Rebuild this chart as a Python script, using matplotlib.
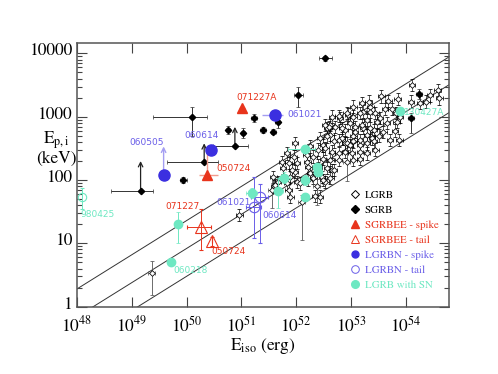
import numpy as np
import matplotlib
matplotlib.use('Agg')
import matplotlib.pyplot as plt
import matplotlib.transforms as mtransforms
from matplotlib.lines import Line2D
from matplotlib.ticker import FuncFormatter, NullFormatter, NullLocator, LogLocator, FixedLocator

plt.rcParams['font.family'] = 'STIXGeneral'
plt.rcParams['mathtext.fontset'] = 'stix'

RED = '#e8341c'
RED_LT = '#f39a8c'
BLUE = '#3b2fe0'
BLUE_TXT = '#6a5ee8'
BLUE_LT = '#a49ef2'
CYAN = '#6ee8c2'

# ---- data (log10 Eiso [erg], log10 Ep,i [keV]) ----
lgrb_loge = [54.11, 54.58, 54.61, 54.44, 54.37, 54.26, 54.09, 53.85, 53.55, 53.68,
             53.20, 53.35, 53.22, 53.44, 53.62, 53.74, 53.82, 52.95, 53.04, 52.80,
             53.29, 53.47, 53.65, 53.83, 53.89, 52.71, 52.56, 52.89, 53.07, 53.22,
             53.41, 53.59, 53.80, 53.04, 53.29, 53.38, 53.50, 53.71, 53.88, 52.77,
             52.62, 52.89, 53.16, 52.49, 52.77, 53.16, 53.35, 52.62, 52.83, 52.98,
             53.07, 53.20, 53.35, 53.53, 52.43, 52.56, 52.68, 52.92, 53.04, 53.16,
             53.29, 53.41, 52.25, 52.40, 52.53, 52.65, 52.77, 52.89, 53.01, 53.16,
             53.29, 53.44, 52.19, 52.31, 52.49, 52.62, 52.77, 53.04, 53.16, 51.83,
             51.95, 52.01, 51.86, 51.76, 52.22, 52.40, 52.56, 52.65, 52.25, 51.98,
             51.89, 51.67, 51.58, 52.01, 52.22, 52.47, 52.62, 52.53, 52.83, 52.98,
             50.96, 51.59, 51.83, 51.86, 51.89, 52.07, 51.92, 52.34, 52.43, 52.31,
             52.34, 52.49, 52.40, 52.68, 53.04, 53.32, 52.92, 52.59, 51.74, 52.20,
             51.98, 52.65, 52.53, 51.61]
lgrb_logep = [3.50, 3.42, 3.29, 3.34, 3.24, 3.22, 3.24, 3.28, 3.32, 3.25,
              3.21, 3.16, 3.08, 3.06, 3.12, 3.12, 3.06, 3.03, 3.00, 2.98,
              2.95, 2.92, 2.90, 2.92, 3.00, 2.84, 2.82, 2.79, 2.84, 2.82,
              2.79, 2.76, 2.78, 2.69, 2.71, 2.66, 2.70, 2.63, 2.63, 2.63,
              2.71, 2.58, 2.55, 2.55, 3.01, 3.06, 3.08, 2.87, 2.82, 2.90,
              2.76, 2.87, 2.82, 2.98, 2.66, 2.69, 2.61, 2.58, 2.61, 2.63,
              2.58, 2.61, 2.53, 2.48, 2.50, 2.45, 2.42, 2.45, 2.42, 2.45,
              2.42, 2.48, 2.40, 2.37, 2.34, 2.32, 2.32, 2.32, 2.34, 2.42,
              2.37, 2.27, 2.27, 2.19, 2.21, 2.24, 2.19, 2.16, 2.11, 2.13,
              2.05, 1.97, 2.05, 1.97, 2.00, 2.05, 2.03, 1.97, 2.66, 2.55,
              1.45, 1.90, 1.95, 1.84, 1.74, 1.95, 2.16, 1.75, 1.74, 2.03,
              2.11, 2.00, 2.19, 2.16, 3.16, 3.24, 3.06, 2.84, 2.28, 2.29,
              2.58, 3.00, 2.87, 1.92]

# LGRBs with large error bars (dex below / above)
lgrbw_loge = [49.36, 52.10, 52.92, 51.55, 52.37]
lgrbw_logep = [0.53, 1.66, 2.29, 1.84, 1.90]
lgrbw_dlo = [0.35, 0.61, 0.31, 0.28, 0.30]
lgrbw_dhi = [0.19, 0.10, 0.19, 0.19, 0.12]

sgrb_loge = [50.10, 49.16, 49.94, 50.32, 50.88, 50.76, 51.03, 51.23, 51.39, 51.58,
             51.66, 52.04, 52.53, 54.24, 54.09]
sgrb_logep = [2.99, 1.83, 2.00, 2.29, 2.53, 2.79, 2.74, 2.98, 2.79, 2.76,
              2.92, 3.34, 3.92, 3.36, 2.98]
sgrb_xlo = [0.71, 0.54, 0.06, 0.68, 0.40, 0.04, 0.04, 0.05, 0.06, 0.05, 0.05, 0.09, 0.12, 0.05, 0.05]
sgrb_xhi = [0.27, 0.23, 0.06, 0.26, 0.24, 0.04, 0.04, 0.05, 0.06, 0.05, 0.05, 0.09, 0.12, 0.05, 0.05]
sgrb_ylo = [0.30, 0.00, 0.05, 0.00, 0.00, 0.06, 0.08, 0.06, 0.05, 0.04, 0.10, 0.19, 0.04, 0.08, 0.24]
sgrb_yhi = [0.16, 0.00, 0.05, 0.00, 0.00, 0.06, 0.08, 0.06, 0.05, 0.04, 0.10, 0.13, 0.04, 0.08, 0.08]
# lower limits (index, arrow top in log Ep)
sgrb_limits = [(1, 2.30), (3, 2.58), (4, 2.84)]

eespike_loge = [51.01, 50.38]
eespike_logep = [3.13, 2.08]
eespike_xlo = [0.05, 0.15]
eespike_xhi = [0.05, 0.20]
eespike_ylo = [0.06, 0.00]
eespike_yhi = [0.06, 0.42]

eetail_loge = [50.26, 50.47]
eetail_logep = [1.26, 1.03]
eetail_xlo = [0.26, 0.00]
eetail_xhi = [0.18, 0.00]
eetail_ylo = [0.36, 0.07]
eetail_yhi = [0.29, 0.07]

nspike_loge = [49.58, 50.44, 51.61]
nspike_logep = [2.08, 2.48, 3.02]
nspike_xlo = [0.00, 0.00, 0.23]
nspike_xhi = [0.00, 0.00, 0.15]
nspike_limit_top = 2.53  # 060505 lower limit

ntail_loge = [51.33, 51.22]
ntail_logep = [1.74, 1.58]
ntail_xlo = [0.15, 0.13]
ntail_xhi = [0.15, 0.13]
ntail_ylo = [0.74, 0.50]
ntail_yhi = [0.20, 0.47]

sn_loge = [48.10, 49.72, 49.84, 53.89, 52.16, 52.37, 52.40, 52.16, 51.78, 51.67, 51.19, 52.16]
sn_logep = [1.74, 0.70, 1.30, 3.09, 2.49, 2.20, 2.12, 2.00, 2.04, 1.83, 1.80, 1.74]
sn_xlo = [0.00, 0.00, 0.05, 0.05, 0.31, 0.05, 0.05, 0.08, 0.10, 0.08, 0.10, 0.06]
sn_xhi = [0.00, 0.00, 0.05, 0.05, 0.18, 0.05, 0.05, 0.08, 0.10, 0.08, 0.10, 0.06]
sn_ylo = [0.19, 0.00, 0.30, 0.04, 0.06, 0.06, 0.06, 0.08, 0.08, 0.27, 0.08, 0.06]
sn_yhi = [0.13, 0.00, 0.19, 0.04, 0.06, 0.06, 0.06, 0.08, 0.08, 0.20, 0.08, 0.06]

# Ep,i = K (Eiso/1e52)^m, with +-band (dex)
amati_k = 100.0
amati_m = 0.54
amati_band = 0.44

labels = [('071227A', 50.90, 3.30, RED), ('050724', 50.54, 2.18, RED),
          ('071227', 49.62, 1.59, RED), ('050724', 50.46, 0.87, RED),
          ('060505', 48.95, 2.59, BLUE_TXT), ('060614', 49.96, 2.70, BLUE_TXT),
          ('061021', 51.84, 3.04, BLUE_TXT), ('061021', 50.55, 1.64, BLUE_TXT),
          ('060614', 51.39, 1.44, BLUE_TXT), ('980425', 48.07, 1.45, CYAN),
          ('060218', 49.75, 0.57, CYAN), ('130427A', 53.97, 3.06, CYAN)]

xticks = [1e48, 1e49, 1e50, 1e51, 1e52, 1e53, 1e54]
yticks = [1, 10, 100, 1000, 10000]


def to_lin(loge, logep, xlo, xhi, ylo, yhi):
    x = 10 ** np.array(loge, dtype=float)
    y = 10 ** np.array(logep, dtype=float)
    xe = [x - x / 10 ** np.array(xlo), x * 10 ** np.array(xhi) - x]
    ye = [y - y / 10 ** np.array(ylo), y * 10 ** np.array(yhi) - y]
    return x, y, xe, ye


fig = plt.figure(figsize=(4.98, 3.74), dpi=100)
ax = fig.add_axes([0.1546, 0.180, 0.7464, 0.706])
ax.set_xscale('log')
ax.set_yscale('log')
ax.set_xlim(1e48, 10 ** 54.78)
ax.set_ylim(1, 10 ** 4.17)

# Amati relation and its band
xl = np.array(ax.get_xlim())
mid = amati_k * (xl / 1e52) ** amati_m
for off in (-amati_band, 0, amati_band):
    ax.plot(xl, mid * 10 ** off, color='#333333', lw=0.7, zorder=1)

# LGRB
n = len(lgrb_loge)
x, y, xe, ye = to_lin(lgrb_loge, lgrb_logep, [0.06] * n, [0.06] * n, [0.1] * n, [0.1] * n)
ax.errorbar(x, y, xerr=xe, yerr=ye, fmt='D', ms=2.9, mfc='white', mec='k', mew=0.55,
            ecolor='k', elinewidth=0.45, capsize=1.2, capthick=0.45, zorder=3)
n = len(lgrbw_loge)
x, y, xe, ye = to_lin(lgrbw_loge, lgrbw_logep, [0.06] * n, [0.06] * n, lgrbw_dlo, lgrbw_dhi)
ax.errorbar(x, y, xerr=xe, yerr=ye, fmt='D', ms=2.9, mfc='white', mec='k', mew=0.55,
            ecolor='#555555', elinewidth=0.6, capsize=1.2, capthick=0.45, zorder=3)

# SGRB
x, y, xe, ye = to_lin(sgrb_loge, sgrb_logep, sgrb_xlo, sgrb_xhi, sgrb_ylo, sgrb_yhi)
ax.errorbar(x, y, xerr=xe, yerr=ye, fmt='D', ms=3.2, mfc='k', mec='k',
            ecolor='#333333', elinewidth=0.7, capsize=1.2, capthick=0.5, zorder=4)
for i, top in sgrb_limits:
    ax.annotate('', xy=(x[i], 10 ** top), xytext=(x[i], y[i]),
                arrowprops=dict(arrowstyle='->', color='#222222', lw=0.9,
                                shrinkA=0, shrinkB=0, mutation_scale=8), zorder=4)

# SGRBEE spike / tail
x, y, xe, ye = to_lin(eespike_loge, eespike_logep, eespike_xlo, eespike_xhi, eespike_ylo, eespike_yhi)
ax.errorbar(x, y, xerr=xe, yerr=ye, fmt='^', ms=7, mfc=RED, mec=RED,
            ecolor=RED_LT, elinewidth=1.0, capsize=0, zorder=5)
x, y, xe, ye = to_lin(eetail_loge, eetail_logep, eetail_xlo, eetail_xhi, eetail_ylo, eetail_yhi)
ax.errorbar(x, y, xerr=xe, yerr=ye, fmt='^', ms=8, mfc='none', mec=RED, mew=0.8,
            ecolor=RED, elinewidth=0.7, capsize=1.5, capthick=0.6, zorder=5)

# LGRBN spike / tail
x, y, xe, ye = to_lin(nspike_loge, nspike_logep, nspike_xlo, nspike_xhi, [0, 0, 0.05], [0, 0, 0.05])
ax.errorbar(x, y, xerr=xe, yerr=ye, fmt='o', ms=8, mfc=BLUE, mec=BLUE,
            ecolor=BLUE_LT, elinewidth=1.0, capsize=0, zorder=6)
ax.annotate('', xy=(x[0], 10 ** nspike_limit_top), xytext=(x[0], y[0]),
            arrowprops=dict(arrowstyle='->', color=BLUE_LT, lw=1.0,
                            shrinkA=0, shrinkB=0, mutation_scale=8), zorder=5)
x, y, xe, ye = to_lin(ntail_loge, ntail_logep, ntail_xlo, ntail_xhi, ntail_ylo, ntail_yhi)
ax.errorbar(x, y, xerr=xe, yerr=ye, fmt='o', ms=7.5, mfc='none', mec=BLUE_TXT, mew=0.8,
            ecolor=BLUE_TXT, elinewidth=0.7, capsize=1.5, capthick=0.6, zorder=5)

# LGRB with SN
x, y, xe, ye = to_lin(sn_loge, sn_logep, sn_xlo, sn_xhi, sn_ylo, sn_yhi)
ax.errorbar(x[1:], y[1:], xerr=[xe[0][1:], xe[1][1:]], yerr=[ye[0][1:], ye[1][1:]],
            fmt='o', ms=6, mfc=CYAN, mec=CYAN, ecolor=CYAN, elinewidth=0.7,
            capsize=1.2, capthick=0.5, zorder=6)
ax.errorbar(x[:1], y[:1], yerr=[ye[0][:1], ye[1][:1]], fmt='o', ms=6, mfc='none', mec=CYAN,
            mew=0.8, ecolor=CYAN, elinewidth=0.7, capsize=1.5, capthick=0.6, zorder=6)

for txt, le, lp, c in labels:
    ax.text(10 ** le, 10 ** lp, txt, color=c, fontsize=6.5, family='DejaVu Sans',
            ha='left', va='center', zorder=7)

# axes style
ax.xaxis.set_major_locator(FixedLocator(xticks))
ax.xaxis.set_minor_locator(NullLocator())
ax.yaxis.set_major_locator(FixedLocator(yticks))
ax.yaxis.set_minor_locator(LogLocator(base=10, subs=np.arange(2, 10), numticks=20))
ax.yaxis.set_major_formatter(FuncFormatter(lambda v, p: f'{v:g}'))
ax.yaxis.set_minor_formatter(NullFormatter())
ax.tick_params(which='both', direction='in', top=True, right=True, colors='#444444',
               labelcolor='k', labelsize=12.5, width=0.8)
ax.tick_params(which='major', length=7)
ax.tick_params(which='minor', length=3.5)
ax.tick_params(axis='x', which='major', pad=6.5)
# lift y tick labels a little, as in the original
lift = mtransforms.ScaledTranslation(0, 3 / 72, fig.dpi_scale_trans)
for lab in ax.get_yticklabels():
    lab.set_transform(lab.get_transform() + lift)
for s in ax.spines.values():
    s.set_color('#555555')
    s.set_linewidth(1.1)

ax.set_xlabel(r'E$_{\rm iso}$ (erg)', fontsize=12.5, labelpad=0)
ax.set_ylabel('E$_{\\rm p,i}$\n(keV)', fontsize=12.5, rotation=0, ha='center', va='center',
              linespacing=1.0)
ax.yaxis.set_label_coords(-0.055, 0.60)

handles = [
    Line2D([], [], ls='none', marker='D', ms=4, mfc='white', mec='k', mew=0.7),
    Line2D([], [], ls='none', marker='D', ms=4, mfc='k', mec='k'),
    Line2D([], [], ls='none', marker='^', ms=5.5, mfc=RED, mec=RED),
    Line2D([], [], ls='none', marker='^', ms=5.5, mfc='none', mec=RED, mew=0.7),
    Line2D([], [], ls='none', marker='o', ms=5, mfc=BLUE, mec=BLUE),
    Line2D([], [], ls='none', marker='o', ms=5.5, mfc='none', mec=BLUE_TXT, mew=0.7),
    Line2D([], [], ls='none', marker='o', ms=5.5, mfc=CYAN, mec=CYAN),
]
names = ['LGRB', 'SGRB', 'SGRBEE - spike', 'SGRBEE - tail', 'LGRBN - spike',
         'LGRBN - tail', 'LGRB with SN']
leg = ax.legend(handles, names, loc='upper left', bbox_to_anchor=(0.712, 0.47),
                frameon=False, fontsize=7.8, handlelength=1.0, handletextpad=0.45,
                labelspacing=0.5, borderpad=0.2,
                labelcolor=['k', 'k', RED, RED, BLUE_TXT, BLUE_TXT, CYAN])

fig.savefig('out.png', dpi=100)
